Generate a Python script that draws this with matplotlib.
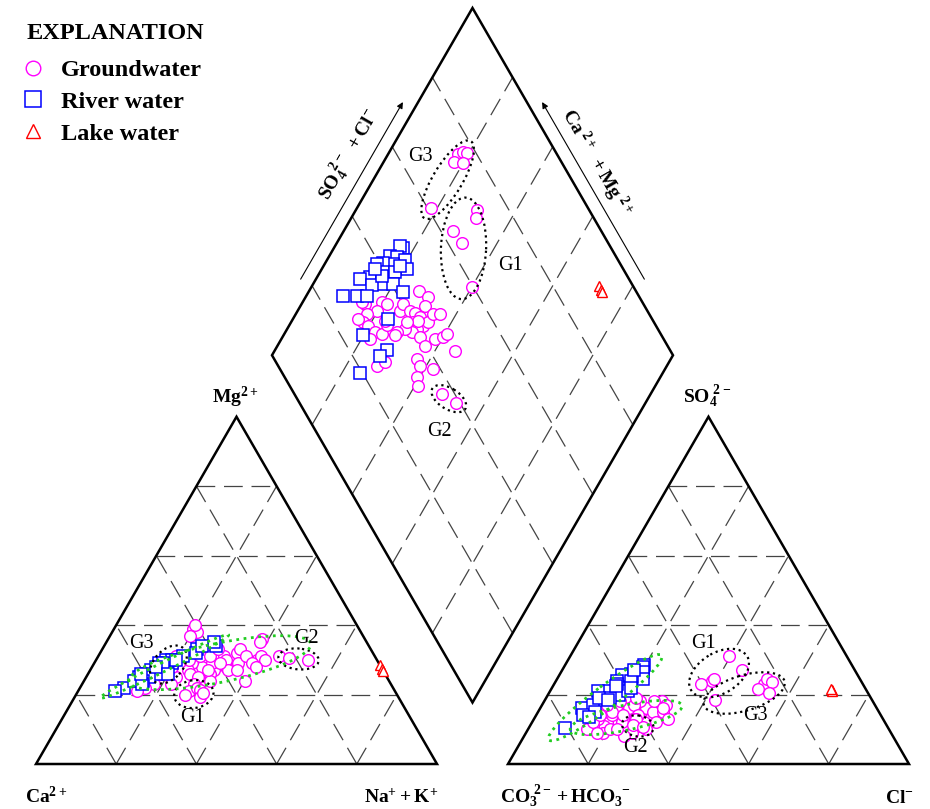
import numpy as np
import matplotlib.pyplot as plt
from matplotlib.patches import Ellipse, Polygon

plt.rcParams['font.family'] = 'Liberation Serif'
plt.rcParams['mathtext.fontset'] = 'custom'
plt.rcParams['mathtext.rm'] = 'Liberation Serif:bold'
plt.rcParams['mathtext.it'] = 'Liberation Serif:bold'
plt.rcParams['mathtext.bf'] = 'Liberation Serif:bold'
plt.rcParams['mathtext.default'] = 'rm'

# Compositions in % meq/L: Na+K and Mg (cations), SO4 and Cl (anions)
# Groundwater, main cluster
gw_nak = [27.4, 30.6, 31.0, 19.7, 21.2, 15.8, 19.7, 17.7, 18.0, 19.8,
          22.4, 24.3, 22.1, 24.3, 25.5, 25.3, 28.0, 29.5, 31.4, 30.5,
          33.5, 34.2, 32.3, 31.5, 34.3, 29.4, 27.8, 27.8, 23.2, 34.3,
          35.9, 38.3, 40.1, 40.5, 45.0, 36.8, 36.6, 38.4, 42.2, 27.6,
          29.2, 39.3, 40.9, 16.3, 14.7, 31.5, 28.8]
gw_mg = [28, 30, 27, 39, 38, 24, 40, 26, 23, 37,
         25, 29, 23, 27, 31, 26, 25, 29, 31, 26,
         28, 32, 30, 24, 27, 27, 31, 23, 30, 33,
         29, 36, 30, 31, 31, 31, 27, 35, 30, 21,
         22, 29, 28, 22, 21, 29, 33]
gw_so4 = [17, 18, 15, 16, 13, 12, 15, 11, 12, 9,
          13, 10, 11, 14, 16, 14, 17, 13, 16, 12,
          18, 15, 17, 11, 14, 18, 12, 15, 17, 15,
          17, 12, 18, 16, 13, 10, 14, 9, 13, 10,
          12, 8, 10, 9, 14, 19, 13]
gw_cl = [29.0, 29.3, 30.3, 19.0, 23.0, 18.6, 17.5, 18.5, 15.5, 19.3,
         16.0, 20.4, 15.8, 18.9, 22.3, 26.2, 23.8, 28.8, 26.4, 28.0,
         24.0, 28.7, 22.9, 27.2, 25.5, 19.0, 22.4, 18.5, 16.2, 31.2,
         30.8, 31.0, 27.3, 30.6, 33.3, 29.5, 21.6, 26.4, 25.2, 14.6,
         15.2, 24.9, 22.1, 17.7, 16.0, 22.5, 25.3]

# Groundwater subgroups
g1_nak = [30.2, 31.1, 27.2, 31.3, 40.0]
g1_mg = [21.3, 19.4, 19.9, 20.5, 24.0]
g1_so4 = [27.0, 31.0, 24.0, 24.5, 23.0]
g1_cl = [44.9, 39.5, 38.9, 39.1, 36.6]

g2_nak = [47.9, 52.8]
g2_mg = [30.5, 30.0]
g2_so4 = [11.2, 10.7]
g2_cl = [25.5, 28.3]

g3_nak = [17.5, 18.5, 19.4, 17.6, 19.8, 18.4]
g3_mg = [29, 30, 31, 27, 28, 26]
g3_so4 = [23.0, 24.5, 23.5, 21.5, 20.5, 18.4]
g3_cl = [52.4, 52.4, 54.2, 51.7, 54.8, 42.4]

# River water
rv_nak = [17.3, 16.2, 15.1, 17.0, 19.5, 21.2, 17.1, 14.4, 13.0, 15.8,
          18.7, 19.0, 13.2, 11.0, 17.1, 20.0, 14.8, 9.2, 12.5, 15.0,
          15.9, 23.7, 23.8, 19.9, 27.9, 27.0, 24.5, 13.3]
rv_mg = [30, 29, 27, 27, 29, 31, 26, 26, 24, 25,
         28, 30, 25, 22, 29, 30, 24, 21, 24, 23,
         28, 33, 32, 26, 34, 35, 34, 26]
rv_so4 = [28.5, 28.0, 26.0, 25.0, 26.5, 24.5, 25.0, 25.5, 24.0, 22.0,
          24.0, 27.0, 21.0, 21.0, 20.0, 21.0, 19.0, 16.0, 17.0, 19.0,
          23.0, 22.0, 18.5, 14.0, 15.0, 13.5, 10.3, 22.5]
rv_cl = [19.6, 19.6, 17.8, 20.2, 20.3, 21.5, 18.4, 15.6, 15.2, 17.7,
         18.6, 17.8, 14.6, 11.9, 17.6, 19.5, 15.9, 10.4, 12.7, 13.2,
         15.8, 19.8, 15.7, 11.6, 14.3, 13.4, 9.1, 15.6]

# Lake water
lk_nak = [71.5, 72.5, 73.2]
lk_mg = [28.5, 27.5, 26.8]
lk_so4 = [21.3, 21.0, 21.6]
lk_cl = [70.1, 70.4, 69.8]

# Piper geometry: triangles of side 100, gap between them
GAP = 17.7
H = np.sqrt(3) / 2
X_AN = 100 + GAP                       # left corner of the anion triangle
B = np.array([100 + GAP / 2, GAP * H])  # bottom corner of the diamond
UL = np.array([-0.5, H])
UR = np.array([0.5, H])


def cation_xy(nak, mg):
    nak, mg = np.asarray(nak, float), np.asarray(mg, float)
    return nak + mg / 2, mg * H


def anion_xy(so4, cl):
    so4, cl = np.asarray(so4, float), np.asarray(cl, float)
    return X_AN + cl + so4 / 2, so4 * H


def diamond_xy(nak, so4, cl):
    a = 100 - np.asarray(nak, float)                        # Ca + Mg
    b = np.asarray(so4, float) + np.asarray(cl, float)      # SO4 + Cl
    return B[0] + (b - a) / 2, B[1] + (a + b) * H


fig = plt.figure(figsize=(9.3, 8.09), dpi=100)
ax = fig.add_axes([0, 0, 1, 1])
ax.set_xlim(-8.98, 222.94)
ax.set_ylim(-11.22, 190.52)
ax.axis('off')

# outlines
frame = dict(fill=False, ec='black', lw=1.8, joinstyle='miter', zorder=3)
ax.add_patch(Polygon([(0, 0), (100, 0), (50, 100 * H)], closed=True, **frame))
ax.add_patch(Polygon([(X_AN, 0), (X_AN + 100, 0), (X_AN + 50, 100 * H)], closed=True, **frame))
ax.add_patch(Polygon([B, B + 100 * UL, B + 100 * UL + 100 * UR, B + 100 * UR], closed=True, **frame))

# dashed 20 % grid
gs = dict(color='#444444', lw=0.9, dashes=(15, 7), zorder=1)
for k in (20, 40, 60, 80):
    for x0 in (0, X_AN):
        ax.plot([x0 + k / 2, x0 + 100 - k / 2], [k * H, k * H], **gs)
        ax.plot([x0 + k, x0 + k + (100 - k) / 2], [0, (100 - k) * H], **gs)
        ax.plot([x0 + 100 - k, x0 + (100 - k) / 2], [0, (100 - k) * H], **gs)
    p0 = B + k * UL
    p1 = p0 + 100 * UR
    ax.plot([p0[0], p1[0]], [p0[1], p1[1]], **gs)
    q0 = B + k * UR
    q1 = q0 + 100 * UL
    ax.plot([q0[0], q1[0]], [q0[1], q1[1]], **gs)

# samples
gw_style = dict(ls='none', marker='o', ms=8.4, mfc='white', mec='#ff00ff', mew=1.0, zorder=4)
rv_style = dict(ls='none', marker='s', ms=8.8, mfc='white', mec='#0000ff', mew=1.1, zorder=4.5)
lk_style = dict(ls='none', marker='^', ms=7.5, mfc='white', mec='#ff0000', mew=1.0, zorder=4.5)

gw_groups = [(gw_nak, gw_mg, gw_so4, gw_cl), (g1_nak, g1_mg, g1_so4, g1_cl),
             (g2_nak, g2_mg, g2_so4, g2_cl), (g3_nak, g3_mg, g3_so4, g3_cl)]
for nak, mg, so4, cl in gw_groups:
    ax.plot(*cation_xy(nak, mg), **gw_style)
    ax.plot(*anion_xy(so4, cl), **gw_style)
    h_gw, = ax.plot(*diamond_xy(nak, so4, cl), **gw_style)

ax.plot(*cation_xy(rv_nak, rv_mg), **rv_style)
ax.plot(*anion_xy(rv_so4, rv_cl), **rv_style)
h_rv, = ax.plot(*diamond_xy(rv_nak, rv_so4, rv_cl), **rv_style)

ax.plot(*cation_xy(lk_nak, lk_mg), **lk_style)
ax.plot(*anion_xy(lk_so4, lk_cl), **lk_style)
h_lk, = ax.plot(*diamond_xy(lk_nak, lk_so4, lk_cl), **lk_style)


def main_axes(x, y):
    vals, vecs = np.linalg.eigh(np.cov(x, y))
    ux, uy = vecs[:, 1]
    return vals, ux, uy, x * ux + y * uy, -x * uy + y * ux


def enclose(xy, color='black', pad=2.6, lw=1.6):
    # dotted ellipse around a group, oriented along its main spread
    x, y = xy
    vals, ux, uy, u, v = main_axes(x, y)
    uc, vc = (u.max() + u.min()) / 2, (v.max() + v.min()) / 2
    w = (u.max() - u.min()) * 1.05 + 2 * pad
    h = (v.max() - v.min()) * 1.05 + 2 * pad
    ax.add_patch(Ellipse((uc * ux - vc * uy, uc * uy + vc * ux), w, h,
                         angle=np.degrees(np.arctan2(uy, ux)),
                         fill=False, ec=color, ls=':', lw=lw, zorder=6))


def spread(xy, color, pad=4.0, n_minor=1.4, lw=2.0):
    # dotted ellipse along the trend of a whole cluster
    x, y = xy
    vals, ux, uy, u, v = main_axes(x, y)
    uc, vc = (u.max() + u.min()) / 2, v.mean()
    ax.add_patch(Ellipse((uc * ux - vc * uy, uc * uy + vc * ux),
                         u.max() - u.min() + 2 * pad, 2 * n_minor * np.sqrt(vals[0]),
                         angle=np.degrees(np.arctan2(uy, ux)),
                         fill=False, ec=color, ls=':', lw=lw, zorder=6))


# the last G1 sample falls in the main cation band and is not circled there
enclose(cation_xy(g1_nak[:4], g1_mg[:4]))
enclose(anion_xy(g1_so4, g1_cl))
enclose(diamond_xy(g1_nak, g1_so4, g1_cl))
for nak, mg, so4, cl in gw_groups[2:]:
    enclose(cation_xy(nak, mg))
    enclose(anion_xy(so4, cl))
    enclose(diamond_xy(nak, so4, cl))

green = '#22cc22'
spread(cation_xy(rv_nak, rv_mg), green)
spread(anion_xy(rv_so4, rv_cl), green, pad=5.0, n_minor=2.3)
spread(cation_xy(gw_nak + g2_nak, gw_mg + g2_mg), green, pad=1.5)
spread(anion_xy(gw_so4 + g2_so4, gw_cl + g2_cl), green)

# group labels
glab = dict(fontsize=14.5, ha='center', va='center', zorder=7)
for x, y, s in [(26.4, 30.1, 'G3'), (38.9, 11.5, 'G1'), (67.5, 31.3, 'G2'),
                (166.4, 30.1, 'G1'), (179.3, 12.2, 'G3'), (149.6, 4.2, 'G2'),
                (95.8, 151.4, 'G3'), (118.2, 124.4, 'G1'), (100.7, 82.8, 'G2')]:
    ax.text(x, y, s, **glab)

# axis labels
lab = dict(fontsize=14, va='baseline')
ax.text(49.6, 90.0, r'$Mg^{2+}$', ha='center', **lab)
ax.text(167.3, 90.0, r'$SO_4^{\ 2-}$', ha='center', **lab)
ax.text(-2.7, -9.7, r'$Ca^{2+}$', ha='left', **lab)
ax.text(100.2, -9.7, r'$Na^{+} + K^{+}$', ha='right', **lab)
ax.text(115.7, -9.7, r'$CO_3^{\ 2-} + HCO_3^{\ -}$', ha='left', **lab)
ax.text(218.9, -9.7, r'$Cl^{-}$', ha='right', **lab)

# diamond side labels with arrows
L = B + 100 * UL
R = B + 100 * UR
T = L + 100 * UR
n_left = np.array([-H, 0.5])
n_right = np.array([H, 0.5])
arrow = dict(arrowstyle='-|>', lw=0.8, color='black', mutation_scale=9, shrinkA=0, shrinkB=0)
ax.annotate('', xy=L + 0.71 * (T - L) + 3.3 * n_left, xytext=L + 0.2 * (T - L) + 3.3 * n_left,
            arrowprops=arrow)
ax.annotate('', xy=R + 0.71 * (T - R) + 3.3 * n_right, xytext=R + 0.2 * (T - R) + 3.3 * n_right,
            arrowprops=arrow)
pl = L + 0.53 * (T - L) + 8.4 * n_left
pr = R + 0.51 * (T - R) + 7.4 * n_right
ax.text(pl[0], pl[1], r'$SO_4^{\ 2-}\ +Cl^{-}$', fontsize=14, rotation=60,
        rotation_mode='anchor', ha='center', va='center')
ax.text(pr[0], pr[1], r'$Ca^{\ 2+}\ +Mg^{\ 2+}$', fontsize=14, rotation=-60,
        rotation_mode='anchor', ha='center', va='center')

# legend
ax.text(0.029, 0.958, 'EXPLANATION', transform=ax.transAxes, fontsize=17.5,
        fontweight='bold', ha='left', va='center')
ax.legend([h_gw, h_rv, h_lk], ['Groundwater', 'River water', 'Lake water'],
          loc='upper left', bbox_to_anchor=(0.028, 0.927),
          frameon=False, prop={'weight': 'bold', 'size': 17.5},
          handlelength=0.6, handletextpad=0.85,
          labelspacing=0.4, borderaxespad=0, borderpad=0, markerscale=1.25)

fig.savefig('out.png', dpi=100)
